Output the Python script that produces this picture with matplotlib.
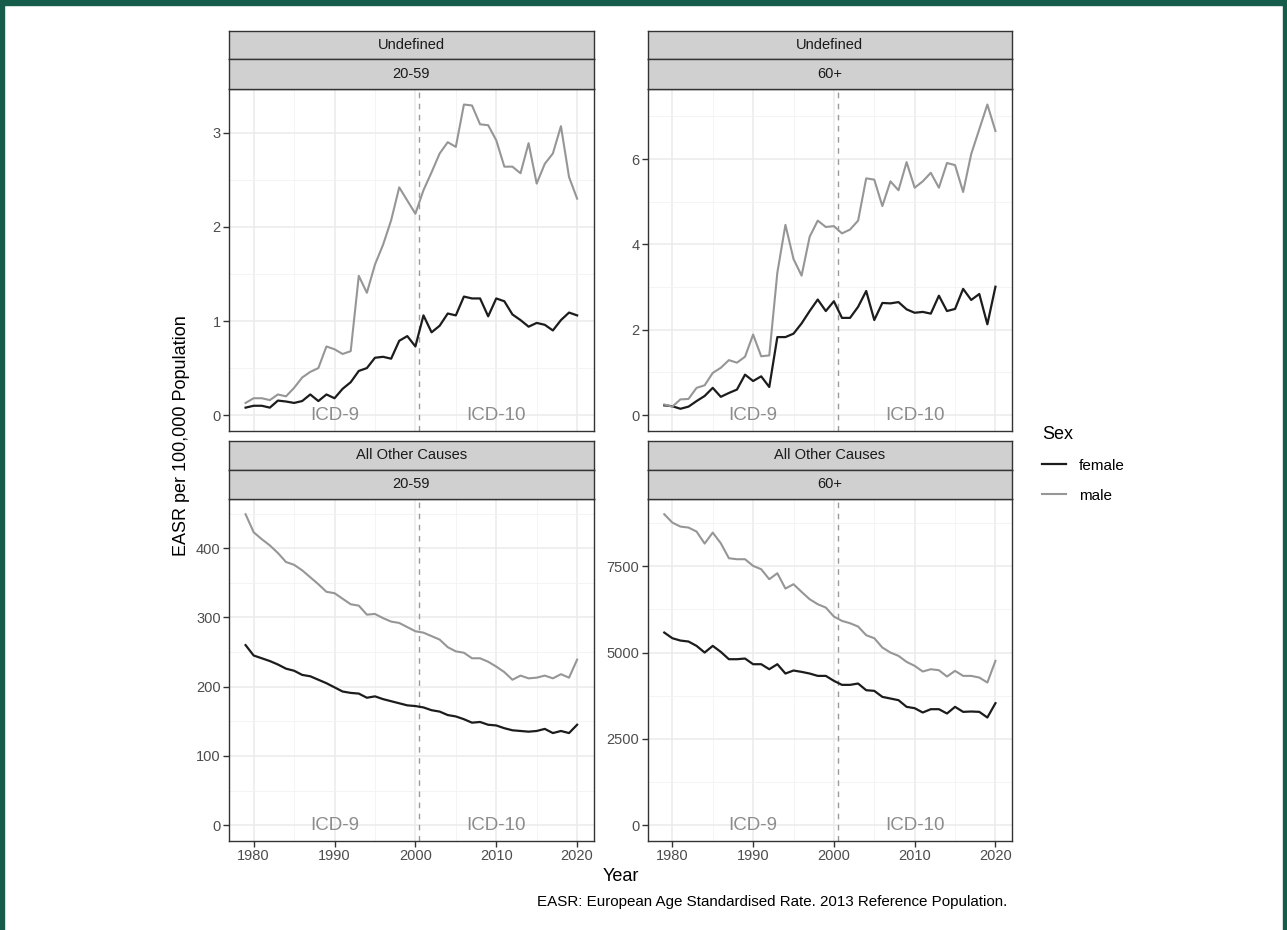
import matplotlib
matplotlib.use("Agg")
import matplotlib.pyplot as plt
from matplotlib.lines import Line2D
from matplotlib.patches import Rectangle

plt.rcParams['font.family'] = ['Liberation Sans', 'DejaVu Sans']

# --- данные ---
years = list(range(1979, 2021))

undef_2059_male = [0.13, 0.18, 0.18, 0.16, 0.22, 0.20, 0.29, 0.40, 0.46, 0.50,
                   0.73, 0.70, 0.65, 0.68, 1.48, 1.30, 1.60, 1.81, 2.07, 2.42,
                   2.28, 2.14, 2.39, 2.58, 2.78, 2.90, 2.85, 3.30, 3.29, 3.09,
                   3.08, 2.92, 2.64, 2.64, 2.57, 2.89, 2.46, 2.67, 2.78, 3.07,
                   2.53, 2.30]
undef_2059_female = [0.08, 0.10, 0.10, 0.08, 0.155, 0.145, 0.13, 0.15, 0.22, 0.15,
                     0.22, 0.18, 0.28, 0.35, 0.47, 0.50, 0.61, 0.62, 0.60, 0.79,
                     0.84, 0.73, 1.06, 0.88, 0.95, 1.08, 1.06, 1.26, 1.24, 1.24,
                     1.05, 1.24, 1.21, 1.07, 1.01, 0.94, 0.98, 0.96, 0.90, 1.01,
                     1.09, 1.06]

undef_60_male = [0.25, 0.20, 0.37, 0.38, 0.64, 0.70, 0.99, 1.11, 1.29, 1.23,
                 1.37, 1.89, 1.38, 1.40, 3.34, 4.46, 3.66, 3.27, 4.18, 4.56,
                 4.41, 4.43, 4.26, 4.35, 4.56, 5.55, 5.52, 4.90, 5.48, 5.27,
                 5.93, 5.33, 5.48, 5.68, 5.33, 5.91, 5.86, 5.23, 6.12, 6.70,
                 7.28, 6.66]
undef_60_female = [0.23, 0.21, 0.15, 0.20, 0.33, 0.45, 0.64, 0.43, 0.52, 0.60,
                   0.95, 0.80, 0.91, 0.66, 1.83, 1.83, 1.91, 2.15, 2.44, 2.71,
                   2.44, 2.67, 2.28, 2.28, 2.54, 2.91, 2.23, 2.63, 2.62, 2.65,
                   2.48, 2.40, 2.42, 2.38, 2.80, 2.44, 2.49, 2.96, 2.70, 2.84,
                   2.13, 3.01]

other_2059_male = [449, 423, 413, 404, 393, 380, 376, 368, 358, 348,
                   337, 335, 327, 319, 317, 304, 305, 299, 294, 292,
                   286, 280, 278, 273, 268, 257, 251, 249, 241, 241,
                   236, 229, 221, 210, 216, 212, 213, 216, 212, 218,
                   213, 239]
other_2059_female = [260, 245, 241, 237, 232, 226, 223, 217, 215, 210,
                     205, 199, 193, 191, 190, 184, 186, 182, 179, 176,
                     173, 172, 170, 166, 164, 159, 157, 153, 148, 149,
                     145, 144, 140, 137, 136, 135, 136, 139, 133, 136,
                     133, 145]

other_60_male = [9006, 8764, 8649, 8620, 8504, 8156, 8475, 8166, 7732, 7703,
                 7703, 7510, 7413, 7124, 7297, 6853, 6979, 6757, 6544, 6400,
                 6303, 6042, 5917, 5849, 5753, 5502, 5415, 5145, 5000, 4903,
                 4730, 4614, 4450, 4517, 4488, 4305, 4469, 4324, 4324, 4276,
                 4131, 4759]
other_60_female = [5579, 5415, 5347, 5319, 5193, 5000, 5193, 5019, 4807, 4807,
                   4826, 4662, 4662, 4517, 4662, 4392, 4479, 4440, 4392, 4324,
                   4324, 4180, 4064, 4064, 4102, 3909, 3890, 3716, 3668, 3620,
                   3427, 3388, 3263, 3359, 3359, 3234, 3427, 3282, 3292, 3282,
                   3118, 3533]

x_major = [1980, 1990, 2000, 2010, 2020]
x_minor = [1985, 1995, 2005, 2015]
icd_change = 2000.5
icd_labels = [("ICD-9", 1990), ("ICD-10", 2010)]

panels = [
    # (причина, возраст, male, female, major, minor, колонка, строка)
    ("Undefined", "20-59", undef_2059_male, undef_2059_female,
     [0, 1, 2, 3], [0.5, 1.5, 2.5], 0, 0),
    ("Undefined", "60+", undef_60_male, undef_60_female,
     [0, 2, 4, 6], [1, 3, 5, 7], 1, 0),
    ("All Other Causes", "20-59", other_2059_male, other_2059_female,
     [0, 100, 200, 300, 400], [50, 150, 250, 350, 450], 0, 1),
    ("All Other Causes", "60+", other_60_male, other_60_female,
     [0, 2500, 5000, 7500], [1250, 3750, 6250, 8750], 1, 1),
]

W, H = 1287, 930
COL_X = [(229, 593.7), (647.7, 1012)]
ROW_Y = [(30.7, 59.3, 89, 430.7), (441, 469.7, 498.7, 840.7)]

FEMALE_C = '#1c1c1c'
MALE_C = '#969696'
DARK = '#333333'


def frac(x0, y0, x1, y1):
    return [x0 / W, 1 - y1 / H, (x1 - x0) / W, (y1 - y0) / H]


fig = plt.figure(figsize=(W / 100, H / 100), dpi=100)

for cause, age, male, female, ymaj, ymin, col, row in panels:
    x0, x1 = COL_X[col]
    s0, s1, p0, p1 = ROW_Y[row]

    ax = fig.add_axes(frac(x0, p0, x1, p1))
    ax.plot(years, female, color=FEMALE_C, lw=1.6, zorder=3)
    ax.plot(years, male, color=MALE_C, lw=1.5, zorder=3)
    ax.axvline(icd_change, color='#9a9a9a', lw=1.0, ls=(0, (4, 4)), zorder=2)
    for lab, xx in icd_labels:
        ax.text(xx, 0, lab, ha='center', va='center', fontsize=13.5,
                color='#8c8c8c', zorder=4)

    # пределы как в ggplot (+5%)
    lo = min(0, min(male), min(female))
    hi = max(max(male), max(female))
    r = hi - lo
    ax.set_ylim(lo - 0.05 * r, hi + 0.05 * r)
    ax.set_xlim(1979 - 0.05 * 41, 2020 + 0.05 * 41)

    ax.set_xticks(x_major)
    ax.set_xticks(x_minor, minor=True)
    ax.set_yticks(ymaj)
    ax.set_yticks([v for v in ymin if v < hi + 0.05 * r], minor=True)
    ax.grid(True, which='major', color='#EBEBEB', lw=1.1, zorder=0)
    ax.grid(True, which='minor', color='#F2F2F2', lw=0.6, zorder=0)
    ax.set_axisbelow(True)
    ax.tick_params(which='major', length=4, width=1, color=DARK,
                   labelsize=10.5, labelcolor='#4D4D4D', pad=2)
    ax.tick_params(which='minor', length=0)
    if row == 0:
        ax.tick_params(axis='x', labelbottom=False, length=0)
    for sp in ax.spines.values():
        sp.set_color(DARK)
        sp.set_linewidth(1.0)

    # две полосы с заголовками фасетов
    for (a, b), txt in [((s0, s1), cause), ((s1, p0), age)]:
        sax = fig.add_axes(frac(x0, a, x1, b))
        sax.set_facecolor('#D0D0D0')
        sax.set_xticks([])
        sax.set_yticks([])
        for sp in sax.spines.values():
            sp.set_color(DARK)
            sp.set_linewidth(1.0)
        sax.text(0.5, 0.5, txt, ha='center', va='center', fontsize=10.5,
                 color='#1A1A1A', transform=sax.transAxes)

fig.text(182 / W, 1 - 435.7 / H, "EASR per 100,000 Population", rotation=90,
         ha='center', va='center', fontsize=13)
fig.text(620.5 / W, 1 - 876.7 / H, "Year", ha='center', va='center',
         fontsize=13)
fig.text(1007 / W, 1 - 902.3 / H,
         "EASR: European Age Standardised Rate. 2013 Reference Population.",
         ha='right', va='center', fontsize=10.9)

handles = [Line2D([], [], color=FEMALE_C, lw=1.6),
           Line2D([], [], color=MALE_C, lw=1.5)]
fig.legend(handles, ["female", "male"], title="Sex", loc='upper left',
           bbox_to_anchor=(1028 / W, 1 - 412 / H), frameon=False,
           fontsize=11, title_fontsize=13, alignment='left',
           handlelength=1.6, handletextpad=0.85, labelspacing=1.05)

# зелёная рамка
green = '#165C4B'
fig.patches.append(Rectangle((0, 1 - 5 / H), 1, 5 / H, transform=fig.transFigure,
                             color=green, zorder=10))
fig.patches.append(Rectangle((0, 0), 4 / W, 1, transform=fig.transFigure,
                             color=green, zorder=10))
fig.patches.append(Rectangle((1 - 4 / W, 0), 4 / W, 1, transform=fig.transFigure,
                             color=green, zorder=10))

fig.savefig("out.png", dpi=100, facecolor='white')
